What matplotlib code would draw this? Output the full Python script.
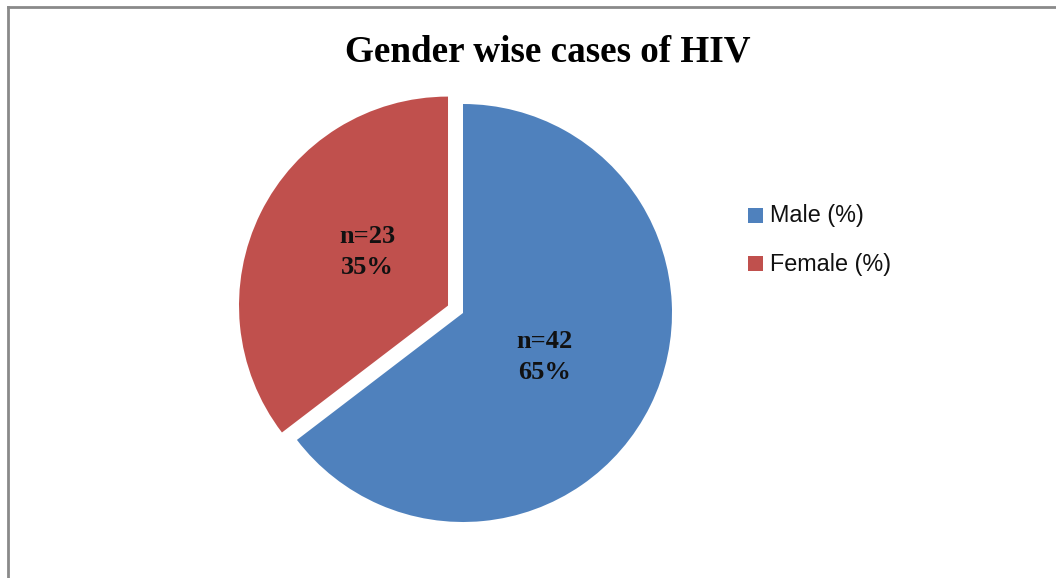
import matplotlib.pyplot as plt
from matplotlib.patches import Rectangle
from matplotlib.lines import Line2D
from matplotlib.transforms import offset_copy

# chart data
categories = ['Male (%)', 'Female (%)']
counts = [42, 23]
colors = ['#4F81BD', '#C0504D']
explode = [0, 0.08]

W, H = 1056, 578
fig = plt.figure(figsize=(W / 100, H / 100), dpi=100)

# pie axes: centre and radius in pixels
cx, cy, r = 463, 313, 209
ax = fig.add_axes([(cx - r) / W, (H - cy - r) / H, 2 * r / W, 2 * r / H])

total = sum(counts)


def label_fmt(pct):
    n = round(pct * total / 100)
    return f'n={n}\n{pct:.0f}%'


wedges, texts, autotexts = ax.pie(
    counts, colors=colors, explode=explode, startangle=90, counterclock=False,
    autopct=label_fmt, pctdistance=0.45,
    wedgeprops={'clip_on': False, 'linewidth': 0},
    textprops={'family': 'Liberation Serif', 'fontweight': 'bold',
               'fontsize': 19, 'color': '#111111', 'linespacing': 1.45})
# nudge labels a little to sit like the original
autotexts[0].set_transform(offset_copy(autotexts[0].get_transform(), fig, x=-3, y=-2, units='dots'))
autotexts[1].set_transform(offset_copy(autotexts[1].get_transform(), fig, x=4, y=12, units='dots'))
ax.set_xlim(-1, 1)
ax.set_ylim(-1, 1)
ax.axis('off')

# title
fig.text(548 / W, 1 - 61 / H, 'Gender wise cases of HIV', ha='center', va='baseline',
         family='Liberation Serif', fontweight='bold', fontsize=26.7)

# legend
for i, (lab, col) in enumerate(zip(categories, colors)):
    yc = 215.5 + i * 48.5
    fig.patches.append(Rectangle((748 / W, 1 - (yc + 7.5) / H), 15 / W, 15 / H,
                                 transform=fig.transFigure, facecolor=col, edgecolor='none'))
    fig.text(770 / W, 1 - yc / H, lab, ha='left', va='center',
             family='Liberation Sans', fontsize=16.8, color='#111111')

# chart border (left and top visible)
fig.add_artist(Line2D([8 / W, 8 / W], [0, 1 - 7 / H], transform=fig.transFigure,
                      color='#8a8a8a', linewidth=2))
fig.add_artist(Line2D([8 / W, 1], [1 - 7 / H, 1 - 7 / H], transform=fig.transFigure,
                      color='#8a8a8a', linewidth=2))

fig.savefig('out.png', dpi=100)
